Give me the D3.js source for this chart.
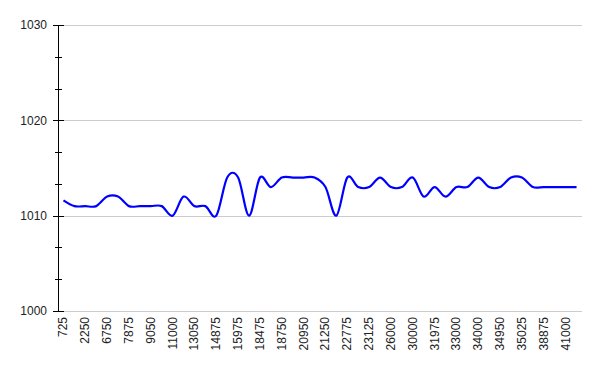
<!DOCTYPE html>
<html>
<head>
<meta charset="utf-8">
<script src="https://cdn.jsdelivr.net/npm/d3@7"></script>
<style>
  html, body { margin: 0; padding: 0; background: #fff; }
  svg text { font-family: Arial, "Liberation Sans", sans-serif; font-size: 12px; fill: #222; }
</style>
</head>
<body>
<svg id="chart" width="600" height="371"></svg>
<script>
// Tick labels shown under every other point
const tickLabels = ["725","2250","6750","7875","9050","11000","13050","14875","15975","18475","18750","20950",
  "21250","22775","23125","26000","30000","31975","33000","34000","34950","35025","38875","41000"];
// Series values (48 points; labels appear on even indices)
const values = [1011.6,1011,1011,1011,1012,1012,1011,1011,1011,1011,1010,1012,
  1011,1011,1010,1014,1014,1010,1014,1013,1014,1014,1014,1014,
  1013,1010,1014,1013,1013,1014,1013,1013,1014,1012,1013,1012,
  1013,1013,1014,1013,1013,1014,1014,1013,1013,1013,1013,1013];
const yTicks = [1000, 1010, 1020, 1030];

const svg = d3.select("#chart");
const mLeft = 58, mRight = 582, mTop = 25, mBottom = 311;

const x = d3.scalePoint().domain(d3.range(values.length)).range([mLeft, mRight]).padding(0.5);
const y = d3.scaleLinear().domain([1000, 1030]).range([mBottom, mTop]);

// Gridlines
svg.append("g").selectAll("line").data(yTicks).join("line")
  .attr("x1", mLeft).attr("x2", mRight)
  .attr("y1", d => Math.round(y(d)) + 0.5).attr("y2", d => Math.round(y(d)) + 0.5)
  .attr("stroke", "#cccccc").attr("stroke-width", 1);

// Y axis
const minor = d3.range(0, 9).map(i => 1000 + i * 10 / 3 + 10 / 3).filter((v, i) => (i + 1) % 3 !== 0);
const ya = svg.append("g");
ya.append("line").attr("x1", mLeft + 0.5).attr("x2", mLeft + 0.5).attr("y1", y(1030)).attr("y2", y(1000))
  .attr("stroke", "#000").attr("stroke-width", 1);
ya.selectAll("line.maj").data(yTicks).join("line").attr("class", "maj")
  .attr("x1", mLeft - 5).attr("x2", mLeft + 6)
  .attr("y1", d => Math.round(y(d)) + 0.5).attr("y2", d => Math.round(y(d)) + 0.5)
  .attr("stroke", "#000");
ya.selectAll("line.min").data(minor).join("line").attr("class", "min")
  .attr("x1", mLeft - 3).attr("x2", mLeft + 4)
  .attr("y1", d => Math.round(y(d)) + 0.5).attr("y2", d => Math.round(y(d)) + 0.5)
  .attr("stroke", "#000");
ya.selectAll("text").data(yTicks).join("text")
  .attr("x", mLeft - 11).attr("y", d => y(d)).attr("dy", "0.35em")
  .attr("text-anchor", "end").text(d => d);

// X labels
svg.append("g").selectAll("text").data(tickLabels).join("text")
  .attr("transform", (d, i) => `translate(${x(i * 2) + 4},${mBottom + 6}) rotate(-90)`)
  .attr("text-anchor", "end").text(d => d);

// Line
const line = d3.line().x((d, i) => x(i)).y(d => y(d)).curve(d3.curveCardinal.tension(0));
svg.append("path").datum(values).attr("d", line)
  .attr("fill", "none").attr("stroke", "#0000ff").attr("stroke-width", 2.2)
  .attr("stroke-linejoin", "round");
</script>
</body>
</html>
